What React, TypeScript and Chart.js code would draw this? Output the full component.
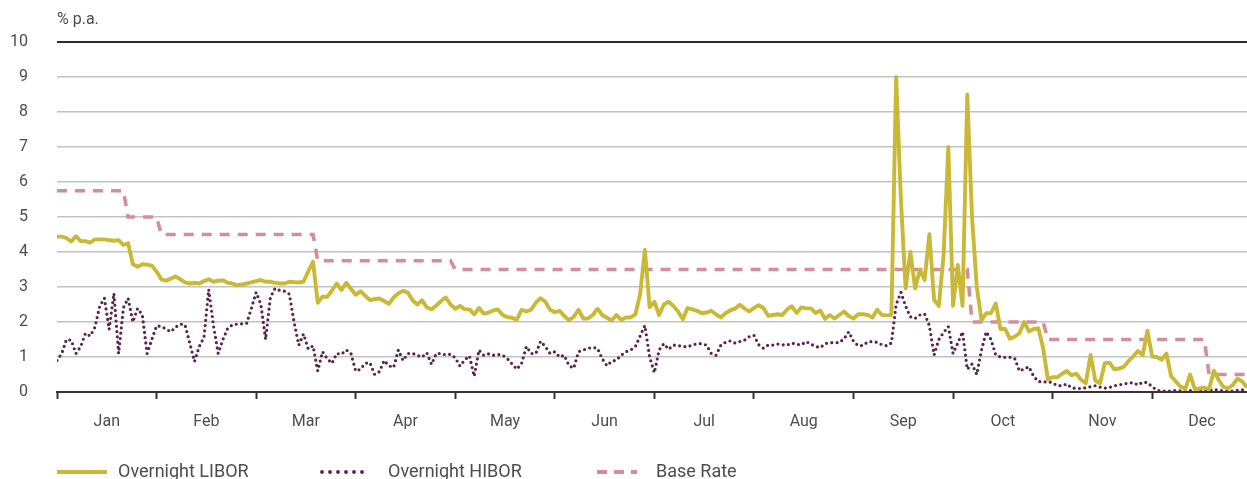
import { useEffect, useRef } from 'react';
import { Chart, registerables } from 'chart.js';

Chart.register(...registerables);

const MONTHS = ['Jan', 'Feb', 'Mar', 'Apr', 'May', 'Jun', 'Jul', 'Aug', 'Sep', 'Oct', 'Nov', 'Dec'];
const DAYS_PER_MONTH = 21; // trading days per month on the x axis
const Y_MIN = 0;
const Y_MAX = 10;
const Y_STEP = 1;

const LIBOR = [
  4.44, 4.44, 4.4, 4.3, 4.45, 4.31, 4.31, 4.27, 4.36, 4.36,
  4.36, 4.34, 4.32, 4.34, 4.2, 4.25, 3.65, 3.58, 3.65, 3.64,
  3.61, 3.44, 3.22, 3.18, 3.24, 3.3, 3.22, 3.13, 3.1, 3.12,
  3.1, 3.17, 3.22, 3.15, 3.18, 3.19, 3.12, 3.1, 3.05, 3.07,
  3.1, 3.13, 3.17, 3.2, 3.15, 3.15, 3.12, 3.1, 3.1, 3.15,
  3.14, 3.13, 3.15, 3.45, 3.72, 2.55, 2.72, 2.72, 2.9, 3.1,
  2.91, 3.12, 2.95, 2.78, 2.88, 2.75, 2.63, 2.65, 2.67, 2.6,
  2.52, 2.7, 2.82, 2.89, 2.84, 2.62, 2.5, 2.62, 2.42, 2.36,
  2.47, 2.6, 2.7, 2.5, 2.38, 2.46, 2.36, 2.36, 2.22, 2.4,
  2.24, 2.27, 2.33, 2.36, 2.2, 2.14, 2.12, 2.07, 2.35, 2.3,
  2.35, 2.55, 2.68, 2.58, 2.35, 2.28, 2.32, 2.17, 2.05, 2.15,
  2.35, 2.1, 2.1, 2.2, 2.38, 2.2, 2.12, 2.04, 2.2, 2.06,
  2.13, 2.13, 2.22, 2.8, 4.06, 2.42, 2.58, 2.2, 2.5, 2.58,
  2.46, 2.3, 2.08, 2.4, 2.36, 2.32, 2.25, 2.27, 2.32, 2.22,
  2.13, 2.25, 2.33, 2.38, 2.49, 2.39, 2.3, 2.4, 2.48, 2.4,
  2.18, 2.2, 2.22, 2.2, 2.36, 2.45, 2.26, 2.42, 2.39, 2.39,
  2.26, 2.33, 2.09, 2.2, 2.1, 2.2, 2.3, 2.17, 2.1, 2.22,
  2.22, 2.2, 2.13, 2.35, 2.2, 2.19, 2.2, 9.0, 5.5, 2.96,
  4.0, 2.96, 3.49, 3.2, 4.51, 2.63, 2.46, 3.9, 7.0, 2.46,
  3.63, 2.46, 8.5, 5.0, 3.0, 2.05, 2.25, 2.25, 2.53, 1.8,
  1.8, 1.52, 1.58, 1.68, 2.0, 1.73, 1.8, 1.82, 1.25, 0.36,
  0.42, 0.42, 0.52, 0.6, 0.48, 0.52, 0.35, 0.25, 1.06, 0.33,
  0.25, 0.82, 0.84, 0.65, 0.67, 0.72, 0.88, 1.02, 1.17, 1.05,
  1.75, 1.01, 1.0, 0.92, 1.1, 0.45, 0.3, 0.15, 0.09, 0.5,
  0.08, 0.1, 0.12, 0.08, 0.61, 0.35, 0.15, 0.1, 0.2, 0.38,
  0.3, 0.13,
];

const HIBOR = [
  0.9, 1.1, 1.5, 1.48, 1.1, 1.3, 1.68, 1.6, 1.85, 2.45,
  2.68, 1.79, 2.82, 1.1, 2.4, 2.68, 2.0, 2.39, 2.2, 1.1,
  1.5, 1.89, 1.87, 1.8, 1.72, 1.85, 1.94, 1.92, 1.4, 0.87,
  1.3, 1.56, 2.93, 1.9, 1.1, 1.5, 1.82, 1.92, 1.94, 1.95,
  1.96, 2.39, 2.85, 2.5, 1.5, 2.7, 2.96, 2.9, 2.88, 2.8,
  2.0, 1.34, 1.66, 1.23, 1.32, 0.6, 1.15, 0.95, 0.82, 1.1,
  1.08, 1.2, 1.1, 0.6, 0.65, 0.82, 0.84, 0.5, 0.58, 0.9,
  0.75, 0.7, 1.2, 0.9, 1.1, 1.1, 1.05, 1.0, 1.12, 0.79,
  1.1, 1.1, 1.06, 1.08, 0.98, 0.74, 0.92, 1.03, 0.45, 1.2,
  1.05, 1.09, 1.05, 1.07, 1.05, 0.95, 0.8, 0.65, 0.82, 1.3,
  1.1, 1.1, 1.45, 1.3, 1.1, 1.15, 1.0, 1.05, 0.75, 0.68,
  1.15, 1.2, 1.25, 1.27, 1.25, 0.95, 0.75, 0.88, 0.91, 1.05,
  1.15, 1.2, 1.3, 1.6, 1.9, 1.0, 0.55, 1.2, 1.38, 1.22,
  1.34, 1.33, 1.3, 1.29, 1.34, 1.38, 1.38, 1.34, 1.1, 1.05,
  1.33, 1.42, 1.46, 1.4, 1.44, 1.48, 1.58, 1.62, 1.35, 1.25,
  1.34, 1.34, 1.37, 1.35, 1.34, 1.4, 1.36, 1.35, 1.44, 1.37,
  1.3, 1.27, 1.38, 1.41, 1.41, 1.41, 1.52, 1.72, 1.45, 1.32,
  1.33, 1.43, 1.44, 1.42, 1.35, 1.32, 1.4, 2.5, 2.85, 2.45,
  2.15, 2.1, 2.2, 2.23, 1.9, 1.06, 1.5, 1.7, 1.87, 1.1,
  1.4, 1.72, 0.65, 0.8, 0.5, 1.2, 1.72, 1.5, 1.06, 1.0,
  0.99, 0.99, 0.96, 0.6, 0.66, 0.72, 0.45, 0.3, 0.28, 0.3,
  0.26, 0.18, 0.18, 0.23, 0.12, 0.1, 0.1, 0.12, 0.15, 0.18,
  0.14, 0.11, 0.13, 0.18, 0.2, 0.23, 0.25, 0.27, 0.2, 0.28,
  0.27, 0.15, 0.05, 0.03, 0.02, 0.03, 0.04, 0.03, 0.06, 0.04,
  0.08, 0.04, 0.03, 0.04, 0.08, 0.05, 0.03, 0.02, 0.03, 0.05,
  0.06, 0.04,
];

// Base rate: trading-day index and rate at each change point
const BASE_RATE_DAYS = [0, 14, 15, 21, 22, 54, 55, 83, 84, 192, 193, 208, 209, 242, 243, 251];
const BASE_RATE = [5.75, 5.75, 5.0, 5.0, 4.5, 4.5, 3.75, 3.75, 3.5, 3.5, 2.0, 2.0, 1.5, 1.5, 0.5, 0.5];

const FONT = "Roboto, 'Noto Sans', sans-serif";
const TEXT = '#4d4d4d';
const LIBOR_COLOR = '#c9b936';
const HIBOR_COLOR = '#5a2354';
const BASE_COLOR = '#d48e9b';

export default function App() {
  const ref = useRef<HTMLCanvasElement>(null);

  useEffect(() => {
    document.body.style.margin = '0';
    const canvas = ref.current;
    if (!canvas) return;

    const series = (vals: number[]) => vals.map((v, i) => ({ x: i / DAYS_PER_MONTH, y: v }));
    const baseData = BASE_RATE_DAYS.map((d, k) => ({ x: d / DAYS_PER_MONTH, y: BASE_RATE[k] }));
    const xMax = (LIBOR.length - 1) / DAYS_PER_MONTH;
    const monthTicks = MONTHS.flatMap((_, k) => [k, k + 0.5]);

    const legendItems = [
      { x0: 57, x1: 107, tx: 118, dash: [] as number[], cap: 'butt' as CanvasLineCap, width: 4 },
      { x0: 322, x1: 364, tx: 388, dash: [0, 8], cap: 'round' as CanvasLineCap, width: 3.8 },
      { x0: 597, x1: 637, tx: 656, dash: [10, 7], cap: 'butt' as CanvasLineCap, width: 4 },
    ];

    const overlay = {
      id: 'overlay',
      afterDraw(chart: any) {
        const { ctx, chartArea } = chart;
        ctx.save();
        ctx.fillStyle = TEXT;
        ctx.textBaseline = 'middle';
        ctx.textAlign = 'left';
        ctx.font = `16px ${FONT}`;
        ctx.fillText('% p.a.', chartArea.left, 20);
        const y = 472;
        chart.data.datasets.forEach((ds: any, k: number) => {
          const it = legendItems[k];
          ctx.beginPath();
          ctx.setLineDash(it.dash);
          ctx.lineCap = it.cap;
          ctx.lineWidth = it.width;
          ctx.strokeStyle = ds.borderColor;
          ctx.moveTo(it.x0, y);
          ctx.lineTo(it.x1, y);
          ctx.stroke();
          ctx.setLineDash([]);
          ctx.font = `18px ${FONT}`;
          ctx.fillStyle = TEXT;
          ctx.fillText(ds.label, it.tx, y);
        });
        ctx.restore();
      },
    };

    const chart = new Chart(canvas, {
      type: 'line',
      data: {
        datasets: [
          {
            label: 'Overnight LIBOR',
            data: series(LIBOR),
            borderColor: LIBOR_COLOR,
            borderWidth: 3.9,
            borderJoinStyle: 'round',
            pointRadius: 0,
            tension: 0,
          },
          {
            label: 'Overnight HIBOR',
            data: series(HIBOR),
            borderColor: HIBOR_COLOR,
            borderWidth: 3.2,
            borderDash: [0, 5.3],
            borderCapStyle: 'round',
            borderJoinStyle: 'round',
            pointRadius: 0,
            tension: 0,
          },
          {
            label: 'Base Rate',
            data: baseData,
            borderColor: BASE_COLOR,
            borderWidth: 3.6,
            borderDash: [10, 8],
            pointRadius: 0,
            tension: 0,
          },
        ],
      },
      options: {
        responsive: false,
        animation: false,
        devicePixelRatio: 1,
        layout: { padding: { top: 42, left: 0, right: 0, bottom: 0 } },
        plugins: {
          legend: { display: false },
          tooltip: { enabled: false },
        },
        scales: {
          x: {
            type: 'linear',
            min: 0,
            max: xMax,
            afterBuildTicks: (scale: any) => {
              scale.ticks = monthTicks.map((v) => ({ value: v }));
            },
            afterFit: (scale: any) => {
              scale.height = 87;
            },
            grid: {
              display: true,
              drawOnChartArea: false,
              drawTicks: true,
              tickLength: 7,
              tickWidth: 2,
              tickColor: (c: any) =>
                c.tick && Number.isInteger(c.tick.value) ? '#333333' : 'rgba(0,0,0,0)',
            },
            border: { display: true, color: '#333333', width: 2 },
            ticks: {
              autoSkip: false,
              maxRotation: 0,
              minRotation: 0,
              padding: 13,
              color: TEXT,
              font: { family: FONT, size: 16 },
              callback: (value: any) =>
                Number.isInteger(value) ? '' : MONTHS[Math.floor(Number(value))],
            },
          },
          y: {
            type: 'linear',
            min: Y_MIN,
            max: Y_MAX,
            afterFit: (scale: any) => {
              scale.width = 57;
            },
            grid: {
              drawTicks: false,
              color: (c: any) =>
                c.tick && c.tick.value === Y_MAX
                  ? '#2b2b2b'
                  : c.tick && c.tick.value === Y_MIN
                  ? 'rgba(0,0,0,0)'
                  : '#c2c2c2',
              lineWidth: (c: any) => (c.tick && c.tick.value === Y_MAX ? 2 : 1.6),
            },
            border: { display: false },
            ticks: {
              stepSize: Y_STEP,
              padding: 29,
              color: TEXT,
              font: { family: FONT, size: 16 },
            },
          },
        },
      },
      plugins: [overlay],
    });

    return () => chart.destroy();
  }, []);

  return (
    <div style={{ width: 1247, height: 479 }}>
      <canvas ref={ref} width={1247} height={479} style={{ display: 'block' }} />
    </div>
  );
}
